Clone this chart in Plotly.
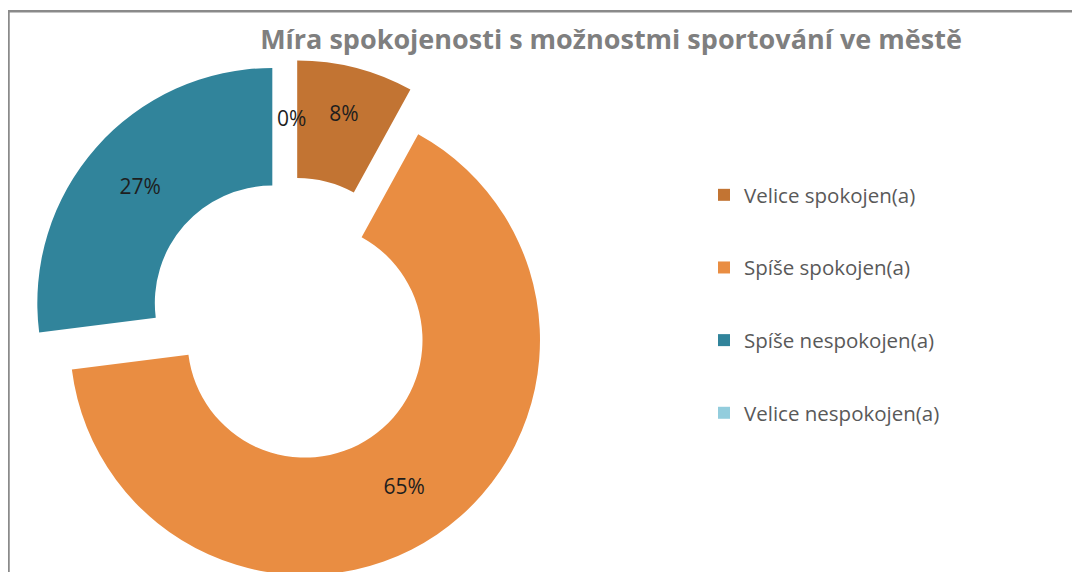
import plotly.graph_objects as go

categories = ["Velice spokojen(a)", "Spíše spokojen(a)", "Spíše nespokojen(a)", "Velice nespokojen(a)"]
values = [8, 65, 27, 0]
colors = ["#C27433", "#E98D42", "#31849B", "#93CDDD"]
title_text = "Míra spokojenosti s možnostmi sportování ve městě"

W, H = 1080, 572
FONT = "Open Sans"
PULL = 0.106
HOLE = 0.5

# pie domain (paper fractions)
dom_x = [23 / W, 543 / W]
dom_y = [0.6 / H, 1 - 51.6 / H]

total = sum(values)
texts = ["%{percent:.0%}" if v > 0 else "" for v in values]

fig = go.Figure()

fig.add_trace(go.Pie(
    labels=categories,
    values=values,
    marker=dict(colors=colors, line=dict(width=0)),
    hole=HOLE,
    pull=[PULL] * len(values),
    sort=False,
    direction="clockwise",
    rotation=0,
    texttemplate=texts,
    textposition="inside",
    insidetextorientation="horizontal",
    textfont=dict(family=FONT, size=21, color="#1e1e1e"),
    domain=dict(x=dom_x, y=dom_y),
    showlegend=False,
    hoverinfo="label+percent",
))

# label for the empty slice (plotly does not place text on zero-size slices)
box_w = (dom_x[1] - dom_x[0]) * W
box_h = (dom_y[1] - dom_y[0]) * H
r_px = min(box_w, box_h) / (2 + 2 * PULL)
cx = (dom_x[0] + dom_x[1]) / 2
cy_px = (dom_y[0] + dom_y[1]) / 2 * H
annotations = []
for i, v in enumerate(values):
    if v == 0:
        mid_r = r_px * (1 + HOLE) / 2 + PULL * r_px
        annotations.append(dict(
            x=cx, y=(cy_px + mid_r) / H, xref="paper", yref="paper",
            text=f"{v / total:.0%}", showarrow=False,
            font=dict(family=FONT, size=21, color="#1e1e1e"),
            xanchor="center", yanchor="middle"))

# legend entries (one per category) so the items can be spaced like the original
for name, col in zip(categories, colors):
    fig.add_trace(go.Scatter(
        x=[None], y=[None], mode="markers", name=name, legendgroup=name,
        marker=dict(symbol="square", size=12, color=col),
        showlegend=True, hoverinfo="skip",
    ))

fig.update_layout(
    width=W, height=H,
    margin=dict(l=0, r=0, t=0, b=0),
    paper_bgcolor="white", plot_bgcolor="white",
    title=dict(text=f"<b>{title_text}</b>", x=603 / W, xanchor="center",
               y=1 - 32 / H, yanchor="middle",
               font=dict(family=FONT, size=27, color="#7F7F7F")),
    uniformtext=dict(mode="show", minsize=21),
    xaxis=dict(visible=False), yaxis=dict(visible=False),
    legend=dict(x=696 / W, xanchor="left", y=1 - 167 / H, yanchor="top",
                font=dict(family=FONT, size=20.5, color="#595959"),
                tracegroupgap=43, bgcolor="rgba(0,0,0,0)"),
    annotations=annotations,
    shapes=[dict(type="rect", xref="paper", yref="paper",
                 x0=0.5 / W, x1=1.02, y0=-0.02, y1=1 - 3.25 / H,
                 line=dict(color="#8A8A8A", width=2.5), fillcolor="rgba(0,0,0,0)",
                 layer="above")],
)

fig.write_html("out.html")
